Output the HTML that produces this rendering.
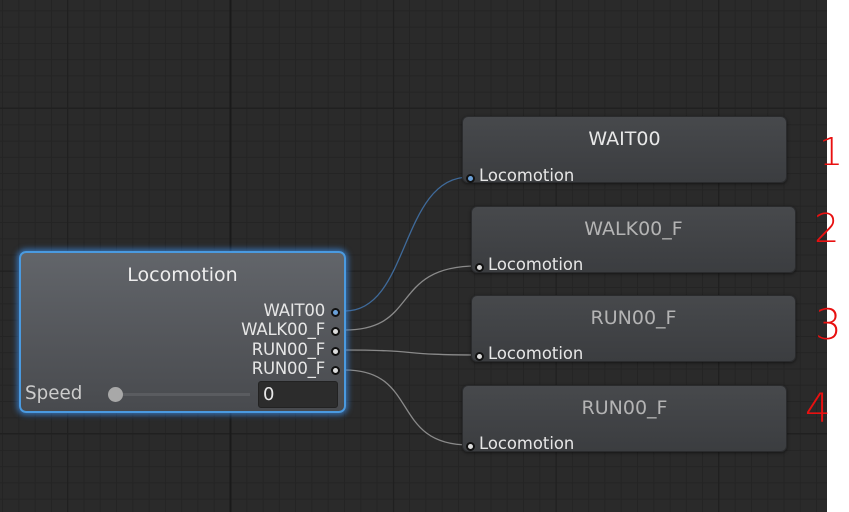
<!DOCTYPE html>
<html><head><meta charset="utf-8"><style>
html,body{margin:0;padding:0;background:#fff;}
body{width:849px;height:512px;position:relative;overflow:hidden;font-family:"DejaVu Sans","Liberation Sans",sans-serif;}
.node{position:absolute;border-radius:6px;box-sizing:border-box;}
.rn{background:linear-gradient(#47494c,#3b3d40);border:1px solid #2a2b2d;box-shadow:0 1px 3px rgba(0,0,0,.5);}
.t{position:absolute;left:0;right:0;text-align:center;font-size:19px;}
.l{position:absolute;font-size:16.4px;color:#e6e6e6;}
.o{position:absolute;font-size:16.5px;color:#e6e6e6;letter-spacing:-0.2px;}
.port{position:absolute;width:5px;height:5px;border-radius:50%;border:2px solid #111;background:#ddd;}
.num{position:absolute;color:#e81010;font-family:"DejaVu Sans",sans-serif;font-weight:200;}
</style></head><body>
<svg width="849" height="512" style="position:absolute;left:0;top:0">
<defs>
<pattern id="g" x="230" y="108" width="16.28" height="16.28" patternUnits="userSpaceOnUse">
<rect width="16.28" height="16.28" fill="#2a2a2a"/>
<rect width="1" height="16.28" fill="#242424"/><rect width="16.28" height="1" fill="#242424"/>
</pattern>
</defs>
<rect width="827" height="512" fill="url(#g)"/>
<g fill="#202020">
<rect x="67" y="0" width="1.2" height="512"/><rect x="393" y="0" width="1.2" height="512"/><rect x="555.5" y="0" width="1.2" height="512"/><rect x="718" y="0" width="1.2" height="512"/>
<rect x="0" y="270.5" width="827" height="1.2"/><rect x="0" y="433" width="827" height="1.2"/>
<rect x="0" y="107.5" width="827" height="1.2"/>
</g>
<rect x="229.5" y="0" width="2" height="512" fill="#1a1a1a"/>
<rect x="827" y="0" width="22" height="512" fill="#fff"/>
<g fill="none" stroke-width="1.3">
<path d="M345 311 C 410 311, 400 177, 469 177" stroke="#3f6a9a"/>
<path d="M345 330 C 420 330, 390 266, 477 266" stroke="#8a8a8a"/>
<path d="M345 350 C 420 350, 400 355, 477 355" stroke="#8a8a8a"/>
<path d="M345 370 C 420 370, 390 445, 469 445" stroke="#8a8a8a"/>
</g>
</svg>

<div class="node" style="left:19px;top:251px;width:327px;height:162px;background:linear-gradient(#62656a,#484a4e);border:2px solid #4a9ae0;box-shadow:0 0 6px 2px rgba(60,140,230,.7);border-radius:7px;">
 <div class="t" style="top:11px;color:#eee;">Locomotion</div>
 <div class="o" style="right:19px;top:48px;">WAIT00</div>
 <div class="o" style="right:19px;top:67px;">WALK00_F</div>
 <div class="o" style="right:19px;top:87px;">RUN00_F</div>
 <div class="o" style="right:19px;top:106px;">RUN00_F</div>
 <div class="port" style="right:4px;top:55px;background:#6aa0d8"></div>
 <div class="port" style="right:4px;top:74px;"></div>
 <div class="port" style="right:4px;top:94px;"></div>
 <div class="port" style="right:4px;top:113px;"></div>
 <div class="l" style="left:4px;top:130px;font-size:18.3px;color:#ccc;">Speed</div>
 <div style="position:absolute;left:97px;top:140px;width:132px;height:3px;background:#5a5c60;"></div>
 <div style="position:absolute;left:87px;top:134px;width:15px;height:15px;border-radius:50%;background:#a8a8a8;"></div>
 <div style="position:absolute;left:237px;top:128px;width:80px;height:27px;background:#2c2c2c;border:1px solid #222;border-radius:3px;box-sizing:border-box;color:#e8e8e8;font-size:18px;padding:2px 0 0 4px;">0</div>
</div>

<div class="node rn" style="left:462px;top:116px;width:325px;height:67px;">
 <div class="t" style="top:11px;color:#e8e8e8;">WAIT00</div>
 <div class="port" style="left:3px;top:57px;background:#6aa0d8"></div>
 <div class="l" style="left:16px;top:49px;">Locomotion</div>
</div>
<div class="node rn" style="left:471px;top:206px;width:325px;height:67px;">
 <div class="t" style="top:11px;color:#b4b4b4;">WALK00_F</div>
 <div class="port" style="left:3px;top:56px;"></div>
 <div class="l" style="left:16px;top:48px;">Locomotion</div>
</div>
<div class="node rn" style="left:471px;top:295px;width:325px;height:67px;">
 <div class="t" style="top:11px;color:#b4b4b4;">RUN00_F</div>
 <div class="port" style="left:3px;top:56px;"></div>
 <div class="l" style="left:16px;top:48px;">Locomotion</div>
</div>
<div class="node rn" style="left:462px;top:385px;width:325px;height:67px;">
 <div class="t" style="top:11px;color:#b4b4b4;">RUN00_F</div>
 <div class="port" style="left:3px;top:56px;"></div>
 <div class="l" style="left:16px;top:48px;">Locomotion</div>
</div>

<div class="num" style="left:819px;top:130px;font-size:38px;">1</div>
<div class="num" style="left:814px;top:206px;font-size:40px;">2</div>
<div class="num" style="left:815px;top:300px;font-size:42px;">3</div>
<div class="num" style="left:805px;top:386px;font-size:40px;">4</div>
</body></html>
